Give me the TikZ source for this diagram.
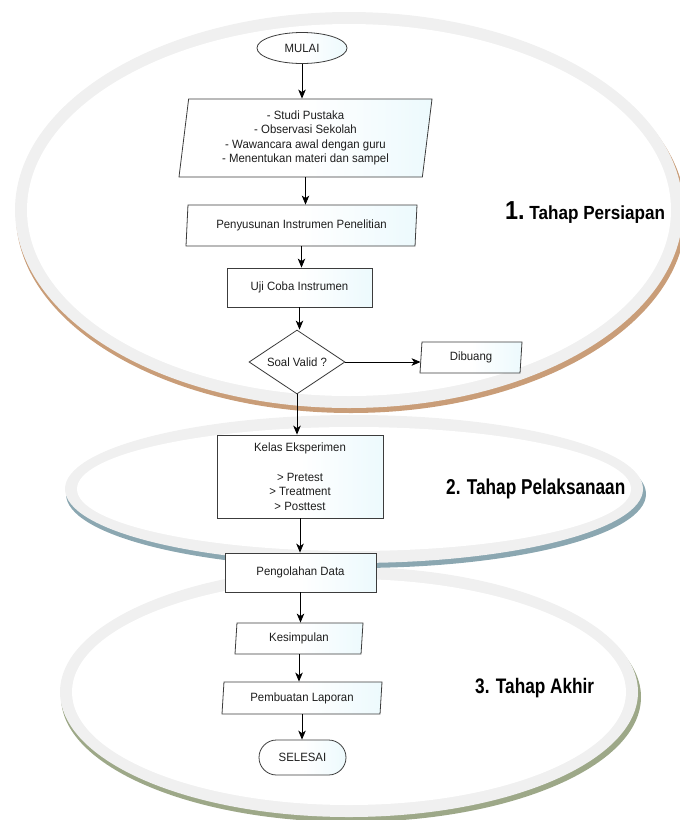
\documentclass[tikz,border=0pt]{standalone}
\usepackage{fontspec}
\setmainfont{Liberation Sans}
\newfontfamily\bodyfont[FakeStretch=0.95]{Liberation Sans}
\newfontfamily\headA[FakeStretch=0.9]{Liberation Sans}
\newfontfamily\headB[FakeStretch=0.8]{Liberation Sans}
\newfontfamily\headC[FakeStretch=0.82]{Liberation Sans}
\usetikzlibrary{shapes.geometric,shapes.misc,arrows.meta}

\definecolor{ringgray}{HTML}{F0F0F0}
\definecolor{shadowbrown}{HTML}{C99D78}
\definecolor{shadowblue}{HTML}{8BA7B1}
\definecolor{shadowolive}{HTML}{9DA888}
\definecolor{edgegray}{HTML}{3C3C3C}
\definecolor{textgray}{HTML}{1E1E1E}
\definecolor{boxcyan}{HTML}{DAF4FB}

% soft white-to-cyan fill used by the flowchart boxes
\pgfdeclarehorizontalshading{boxfill}{100bp}{color(0bp)=(white); color(50bp)=(white); color(100bp)=(boxcyan)}

\begin{document}
\begin{tikzpicture}[x=1pt,y=-1pt,
  box/.style={draw=edgegray, line width=0.8pt, shading=boxfill, text=textgray,
    font=\bodyfont\fontsize{12}{14.5}\selectfont, align=center, inner sep=0pt},
  procbox/.style={box, rectangle},
  iobox/.style={box, trapezium, trapezium left angle=80, trapezium right angle=100,
    trapezium stretches body},
  termbox/.style={box, ellipse},
  endbox/.style={box, rounded rectangle},
  decbox/.style={draw=edgegray, line width=0.8pt, fill=white, text=textgray,
    font=\bodyfont\fontsize{12}{14.5}\selectfont, diamond, aspect=1.5, inner sep=0pt},
  arr/.style={-{Stealth[length=9pt,width=7.5pt,inset=2.5pt]}, line width=0.9pt, black},
  phase/.style={anchor=base west, inner sep=0pt, text=black}]

\useasboundingbox (0,0) rectangle (680,820);
\clip (0,0) rectangle (680,820);

% phase rings: offset shadow, grey band, white inside
\fill[shadowolive] (351,697) ellipse [x radius=290pt, y radius=125pt];
\fill[ringgray] (349,692) ellipse [x radius=289pt, y radius=125pt];
\fill[white] (349,692) ellipse [x radius=277pt, y radius=113pt];

\fill[shadowblue] (356,494) ellipse [x radius=290pt, y radius=74pt];
\fill[ringgray] (354,489) ellipse [x radius=289pt, y radius=74pt];
\fill[white] (354,489) ellipse [x radius=277pt, y radius=62pt];

\fill[shadowbrown] (351,215) ellipse [x radius=335pt, y radius=198pt];
\fill[ringgray] (349,210) ellipse [x radius=334pt, y radius=198pt];
\fill[white] (349,210) ellipse [x radius=322pt, y radius=186pt];

% phase titles
\node[phase, font=\headA\bfseries] (lab1) at (505,219)
  {\fontsize{26}{26}\selectfont 1.\fontsize{19}{19}\selectfont\ Tahap Persiapan};
\node[phase, font=\headB\bfseries\fontsize{21.5}{21.5}\selectfont] (lab2) at (446,494)
  {2. Tahap Pelaksanaan};
\node[phase, font=\headC\bfseries\fontsize{21}{21}\selectfont] (lab3) at (475,693.5)
  {3. Tahap Akhir};

% flowchart
\node[termbox, minimum width=90pt, minimum height=31pt] (mulai) at (302,48) {MULAI};
\node[iobox, minimum width=253pt, minimum height=78pt] (studi) at (305.5,138)
  {- Studi Pustaka\\- Observasi Sekolah\\- Wawancara awal dengan guru\\- Menentukan materi dan sampel};
\node[iobox, minimum width=231pt, minimum height=41pt] (susun) at (301.5,225.5)
  {Penyusunan Instrumen Penelitian};
\node[procbox, minimum width=145pt, minimum height=39pt] (uji) at (299.5,287.5)
  {Uji Coba Instrumen};
\node[decbox, minimum width=96pt, minimum height=64pt] (valid) at (297,362) {Soal Valid ?};
\node[iobox, minimum width=102pt, minimum height=31pt] (buang) at (471,357.5) {Dibuang};
\node[procbox, minimum width=166pt, minimum height=83pt, baseline=0pt] (kelas) at (300,476.5)
  {Kelas Eksperimen\\[15pt]> Pretest\\> Treatment\\> Posttest};
\node[procbox, minimum width=151pt, minimum height=39pt] (olah) at (300.5,572.5)
  {Pengolahan Data};
\node[iobox, minimum width=128pt, minimum height=31pt] (simpul) at (299,638.5) {Kesimpulan};
\node[iobox, minimum width=160pt, minimum height=32pt] (lapor) at (302,698) {Pembuatan Laporan};
\node[endbox, minimum width=87pt, minimum height=35pt] (selesai) at (302.5,757.5) {SELESAI};

% connectors
\draw[arr] (mulai.south) -- (mulai.south |- studi.north);
\draw[arr] (studi.south) -- (studi.south |- susun.north);
\draw[arr] (susun.south) -- (susun.south |- uji.north);
\draw[arr] (uji.south) -- (uji.south |- valid.north);
\draw[arr] (valid.east) -- (valid.east -| buang.west);
\draw[arr] (valid.south) -- (valid.south |- kelas.north);
\draw[arr] (kelas.south) -- (kelas.south |- olah.north);
\draw[arr] (olah.south) -- (olah.south |- simpul.north);
\draw[arr] (simpul.south) -- (simpul.south |- lapor.north);
\draw[arr] (lapor.south) -- (lapor.south |- selesai.north);
\end{tikzpicture}
\end{document}
